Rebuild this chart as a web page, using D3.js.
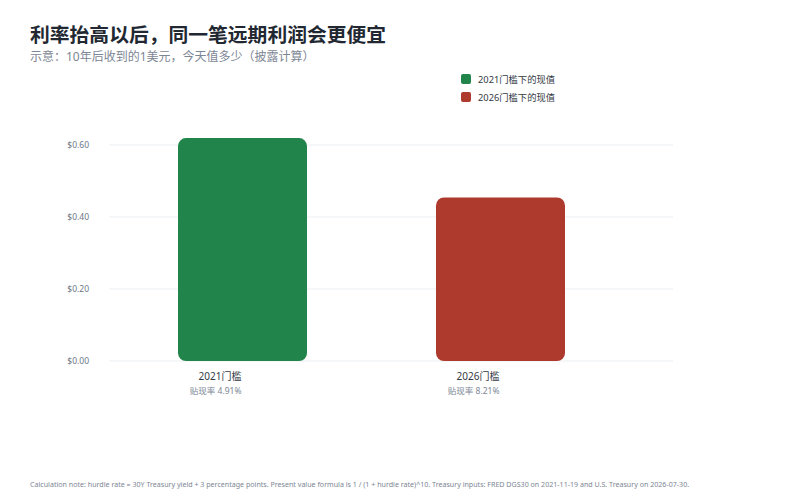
<!DOCTYPE html>
<html>
<head>
<meta charset="utf-8">
<script src="https://cdn.jsdelivr.net/npm/d3@7"></script>
<style>
  body { margin: 0; background: #fff; }
  svg { font-family: "Noto Sans", "Noto Sans CJK SC", sans-serif; }
</style>
</head>
<body>
<svg width="792" height="496"></svg>
<script>
// data
var categories = ["2021门槛", "2026门槛"];
var rates = [4.91, 8.21];          // hurdle rate, percent
var values = [0.6192, 0.4543];     // present value of $1 in 10 years
var colors = ["#21844a", "#ae3a2e"];
var legendLabels = ["2021门槛下的现值", "2026门槛下的现值"];
var yTicks = [0, 0.2, 0.4, 0.6];

var svg = d3.select("svg"),
    width = +svg.attr("width"),
    height = +svg.attr("height");

var x = d3.scaleBand()
    .domain(categories)
    .range([113.5, 629.5])
    .paddingInner(0.5)
    .paddingOuter(0.25);

var y = d3.scaleLinear()
    .domain([0, 1])
    .range([361, 1]);

// title
svg.append("text")
    .attr("x", 30).attr("y", 42)
    .attr("font-size", 19.8).attr("font-weight", 700)
    .attr("fill", "#222831")
    .text("利率抬高以后，同一笔远期利润会更便宜");
svg.append("text")
    .attr("x", 30).attr("y", 61)
    .attr("font-size", 12)
    .attr("fill", "#7d8694")
    .text("示意：10年后收到的1美元，今天值多少（披露计算）");

// grid + y labels
var grid = svg.append("g");
grid.selectAll("line")
    .data(yTicks)
    .enter().append("line")
    .attr("x1", 109).attr("x2", 673)
    .attr("y1", function (d) { return y(d); })
    .attr("y2", function (d) { return y(d); })
    .attr("stroke", "#eceef1")
    .attr("stroke-width", 1);
grid.selectAll("text")
    .data(yTicks)
    .enter().append("text")
    .attr("x", 89)
    .attr("y", function (d) { return y(d) + 3; })
    .attr("text-anchor", "end")
    .attr("font-size", 8.5)
    .attr("fill", "#6b7686")
    .text(function (d) { return "$" + d3.format(".2f")(d); });

// bars
svg.append("g").selectAll("rect")
    .data(values)
    .enter().append("rect")
    .attr("x", function (d, i) { return x(categories[i]); })
    .attr("y", function (d) { return y(d); })
    .attr("width", x.bandwidth())
    .attr("height", function (d) { return y(0) - y(d); })
    .attr("rx", 8).attr("ry", 8)
    .attr("fill", function (d, i) { return colors[i]; });

// category labels (right edge sits at the bar centre)
var lab = svg.append("g").selectAll("g")
    .data(categories)
    .enter().append("g")
    .attr("transform", function (d) {
        return "translate(" + (x(d) + x.bandwidth() / 2 - 1) + ",0)";
    });
lab.append("text")
    .attr("y", 380)
    .attr("text-anchor", "end")
    .attr("font-size", 10)
    .attr("fill", "#333a44")
    .text(function (d) { return d; });
lab.append("text")
    .attr("y", 394)
    .attr("text-anchor", "end")
    .attr("font-size", 8.5)
    .attr("fill", "#7d8694")
    .text(function (d, i) { return "贴现率 " + rates[i].toFixed(2) + "%"; });

// legend
var leg = svg.append("g").selectAll("g")
    .data(legendLabels)
    .enter().append("g")
    .attr("transform", function (d, i) { return "translate(461," + (74 + i * 18) + ")"; });
leg.append("rect")
    .attr("width", 10).attr("height", 10)
    .attr("rx", 2)
    .attr("fill", function (d, i) { return colors[i]; });
leg.append("text")
    .attr("x", 17).attr("y", 9)
    .attr("font-size", 9.3)
    .attr("fill", "#333a44")
    .text(function (d) { return d; });

// footnote
svg.append("text")
    .attr("x", 30).attr("y", 487)
    .attr("font-size", 7.1)
    .attr("fill", "#7d8694")
    .text("Calculation note: hurdle rate = 30Y Treasury yield + 3 percentage points. Present value formula is 1 / (1 + hurdle rate)^10. Treasury inputs: FRED DGS30 on 2021-11-19 and U.S. Treasury on 2026-07-30.");
</script>
</body>
</html>
